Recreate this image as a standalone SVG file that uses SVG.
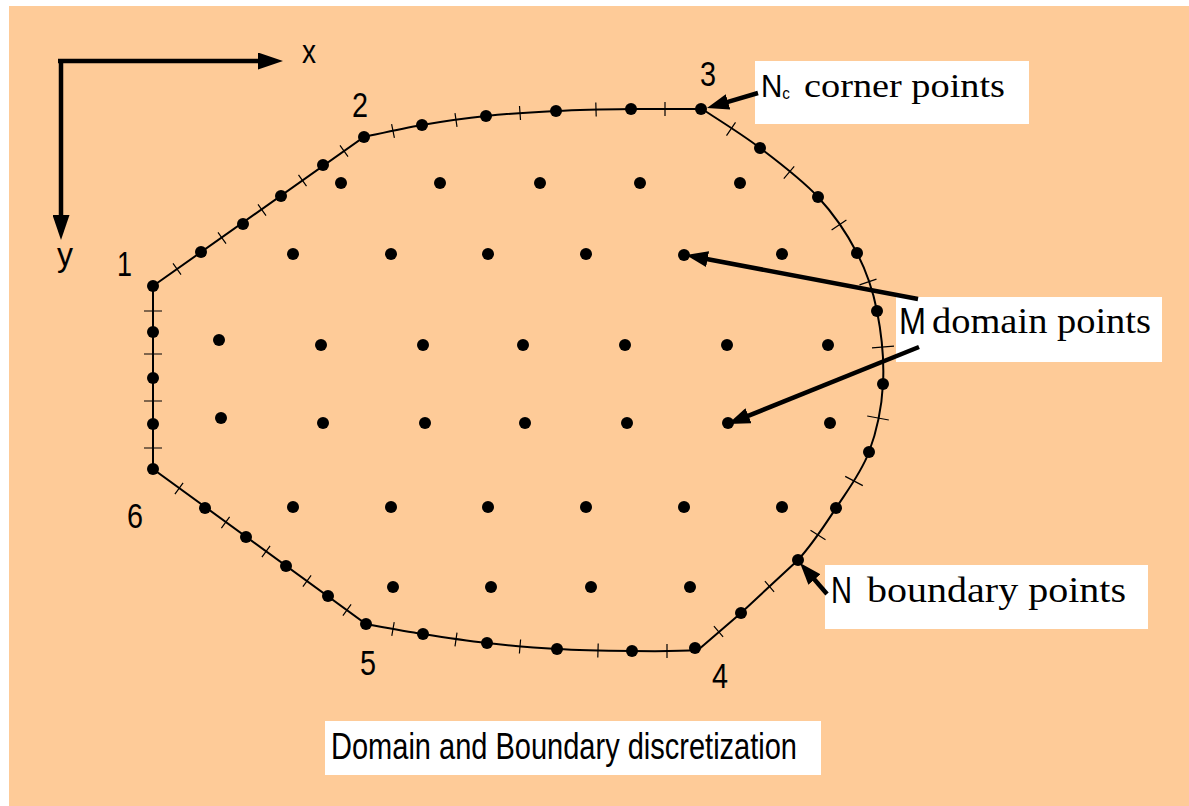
<svg xmlns="http://www.w3.org/2000/svg" width="1189" height="806" viewBox="0 0 1189 806">
<style>
.bd{fill:#000}
.dp{fill:#000}
.tk{stroke:#000;stroke-width:1.2;fill:none}
.edge{stroke:#000;stroke-width:2;fill:none}
.ax{stroke:#000;stroke-width:4.5;fill:none}
.ar{stroke:#000;stroke-width:4.5;fill:none}
.sn{font-family:"Liberation Sans Narrow","Liberation Sans",Arial,sans-serif;fill:#000}
.sf{font-family:"Liberation Serif","Times New Roman",serif;fill:#000}
.box{fill:#fff}
</style>
<defs>
<marker id="axhead" markerUnits="userSpaceOnUse" markerWidth="25" markerHeight="17" viewBox="0 0 25 17" refX="1" refY="8.5" orient="auto"><path d="M0,0 L25,8.5 L0,17 z" fill="#000"/></marker>
<marker id="head" markerUnits="userSpaceOnUse" markerWidth="22" markerHeight="16" viewBox="0 0 22 16" refX="1" refY="8" orient="auto"><path d="M0,0 L22,8 L0,16 z" fill="#000"/></marker>
</defs>
<rect x="9" y="6" width="1180" height="800" fill="#FECB98"/>

<g id="axes">
<path class="ax" d="M58,61 H259" marker-end="url(#axhead)"/>
<path class="ax" d="M61,59 V216" marker-end="url(#axhead)"/>
<text class="sn" x="302" y="63" font-size="34" textLength="14" lengthAdjust="spacingAndGlyphs">x</text>
<text class="sn" x="57" y="266" font-size="34" textLength="16" lengthAdjust="spacingAndGlyphs">y</text>
</g>

<g id="boundary">
<path class="edge" d="M153,286 L364,137 C373.7,135 401.7,128.5 422,125 C442.3,121.5 463.7,118.3 486,116 C508.3,113.7 531.8,112.2 556,111 C580.2,109.8 606.7,109.3 631,109 C655.3,108.7 690.2,109 702,109 C711.7,115.5 740.7,133.3 760,148 C779.3,162.7 801.8,179.5 818,197 C834.2,214.5 847.2,234 857,253 C866.8,272 872.7,289.2 877,311 C881.3,332.8 884.3,360.5 883,384 C881.7,407.5 876.8,431.3 869,452 C861.2,472.7 847.8,490 836,508 C824.2,526 813.8,542.5 798,560 L741,613 L698,650 C685.3,651 655.2,651.3 632,651 C608.8,650.7 581.2,650.3 557,649 C532.8,647.7 509.3,645.5 487,643 C464.7,640.5 443.2,637.2 423,634 C402.8,630.8 375.5,625.7 366,624 L153,469 Z"/>
<g id="ticks">
<path class="tk" d="M173,263.3 L181,274.7 M218,232.3 L226,243.7 M258,204.3 L266,215.7 M298.5,174.8 L306.5,186.2 M340,145.3 L348,156.7"/>
<path class="tk" d="M144,311 H162 M144,354 H162 M144,401 H162 M144,448 H162"/>
<path class="tk" d="M183.1,482.8 L174.9,494.2 M229.6,516.8 L221.4,528.2 M270.1,545.8 L261.9,557.2 M311.1,575.3 L302.9,586.7 M351.1,604.3 L342.9,615.7"/>
<path class="tk" d="M713.9,626.2 L723.1,636.8 M764.9,581.2 L774.1,591.8"/>
<path class="tk" d="M391.6,124.1 L394.4,137.9 M455,113.1 L457,126.9 M519.5,106 L520.5,120 M595.8,102.5 L596.2,116.5 M665,102 L665,116"/>
<path class="tk" d="M394.2,622.1 L391.8,635.9 M457,632.6 L455,646.4 M520.6,639.5 L519.4,653.5 M598.2,643.5 L597.8,657.5 M667,644 L667,658"/>
<path class="tk" d="M735.5,122.4 L726.5,135.6 M794.2,166.4 L783.8,178.6 M846.4,219.9 L831.6,230.1 M876.5,279.1 L859.5,284.9 M894,346.2 L872,347.8 M888.8,420 L867.2,416 M862.8,485.6 L845.2,476.4 M825.5,539.7 L810.5,530.3"/>
</g>
<g id="boundary-points">
<circle class="bd" cx="153" cy="286" r="6"/><circle class="bd" cx="201" cy="252" r="6"/><circle class="bd" cx="243" cy="224" r="6"/><circle class="bd" cx="281" cy="196" r="6"/><circle class="bd" cx="323" cy="165" r="6"/><circle class="bd" cx="364" cy="137" r="6"/>
<circle class="bd" cx="422" cy="125" r="6"/><circle class="bd" cx="486" cy="116" r="6"/><circle class="bd" cx="556" cy="111" r="6"/><circle class="bd" cx="631" cy="109" r="6"/><circle class="bd" cx="701" cy="109" r="6"/>
<circle class="bd" cx="760" cy="148" r="6"/><circle class="bd" cx="818" cy="197" r="6"/><circle class="bd" cx="857" cy="253" r="6"/><circle class="bd" cx="877" cy="311" r="6"/><circle class="bd" cx="883" cy="384" r="6"/><circle class="bd" cx="869" cy="452" r="6"/><circle class="bd" cx="836" cy="508" r="6"/><circle class="bd" cx="798" cy="560" r="6"/><circle class="bd" cx="741" cy="613" r="6"/><circle class="bd" cx="695" cy="648" r="6"/>
<circle class="bd" cx="632" cy="651" r="6"/><circle class="bd" cx="557" cy="649" r="6"/><circle class="bd" cx="487" cy="643" r="6"/><circle class="bd" cx="423" cy="634" r="6"/><circle class="bd" cx="366" cy="624" r="6"/>
<circle class="bd" cx="328" cy="596" r="6"/><circle class="bd" cx="286" cy="566" r="6"/><circle class="bd" cx="246" cy="537" r="6"/><circle class="bd" cx="205" cy="508" r="6"/><circle class="bd" cx="153" cy="469" r="6"/>
<circle class="bd" cx="153" cy="424" r="6"/><circle class="bd" cx="153" cy="378" r="6"/><circle class="bd" cx="153" cy="332" r="6"/>
</g>
</g>

<g id="domain-points">
<circle class="dp" cx="341" cy="183" r="6"/><circle class="dp" cx="440" cy="183" r="6"/><circle class="dp" cx="540" cy="183" r="6"/><circle class="dp" cx="640" cy="183" r="6"/><circle class="dp" cx="740" cy="183" r="6"/>
<circle class="dp" cx="293" cy="254" r="6"/><circle class="dp" cx="391" cy="254" r="6"/><circle class="dp" cx="488" cy="254" r="6"/><circle class="dp" cx="586" cy="254" r="6"/><circle class="dp" cx="684" cy="255" r="6"/><circle class="dp" cx="782" cy="254" r="6"/>
<circle class="dp" cx="219" cy="340" r="6"/><circle class="dp" cx="321" cy="345" r="6"/><circle class="dp" cx="423" cy="345" r="6"/><circle class="dp" cx="523" cy="345" r="6"/><circle class="dp" cx="625" cy="345" r="6"/><circle class="dp" cx="727" cy="345" r="6"/><circle class="dp" cx="828" cy="345" r="6"/>
<circle class="dp" cx="221" cy="418" r="6"/><circle class="dp" cx="323" cy="423" r="6"/><circle class="dp" cx="425" cy="423" r="6"/><circle class="dp" cx="525" cy="423" r="6"/><circle class="dp" cx="627" cy="423" r="6"/><circle class="dp" cx="728" cy="423" r="6"/><circle class="dp" cx="830" cy="423" r="6"/>
<circle class="dp" cx="293" cy="507" r="6"/><circle class="dp" cx="391" cy="507" r="6"/><circle class="dp" cx="488" cy="507" r="6"/><circle class="dp" cx="586" cy="507" r="6"/><circle class="dp" cx="684" cy="507" r="6"/><circle class="dp" cx="782" cy="507" r="6"/>
<circle class="dp" cx="393" cy="587" r="6"/><circle class="dp" cx="491" cy="587" r="6"/><circle class="dp" cx="591" cy="587" r="6"/><circle class="dp" cx="690" cy="587" r="6"/>
</g>

<g id="corner-labels">
<text class="sn" x="117" y="276" font-size="35" textLength="15" lengthAdjust="spacingAndGlyphs">1</text>
<text class="sn" x="352" y="117" font-size="35" textLength="16" lengthAdjust="spacingAndGlyphs">2</text>
<text class="sn" x="700" y="86" font-size="35" textLength="16" lengthAdjust="spacingAndGlyphs">3</text>
<text class="sn" x="712" y="688" font-size="35" textLength="16" lengthAdjust="spacingAndGlyphs">4</text>
<text class="sn" x="360" y="675" font-size="35" textLength="16" lengthAdjust="spacingAndGlyphs">5</text>
<text class="sn" x="127" y="528" font-size="35" textLength="16" lengthAdjust="spacingAndGlyphs">6</text>
</g>

<g id="label-corner">
<rect class="box" x="755" y="61" width="274" height="63"/>
<text class="sn" x="761" y="97" font-size="31" textLength="29" lengthAdjust="spacingAndGlyphs">N<tspan font-size="16" dy="2">c</tspan></text>
<text class="sf" x="804" y="97" font-size="33" textLength="201" lengthAdjust="spacingAndGlyphs">corner points</text>
</g>

<g id="label-domain">
<rect class="box" x="896" y="297" width="266" height="65"/>
<text class="sn" x="899" y="334" font-size="36" textLength="27" lengthAdjust="spacingAndGlyphs">M</text>
<text class="sf" x="932" y="333" font-size="36" textLength="219" lengthAdjust="spacingAndGlyphs">domain points</text>
</g>

<g id="label-boundary">
<rect class="box" x="825" y="565" width="323" height="64"/>
<text class="sn" x="831" y="603" font-size="36" textLength="21" lengthAdjust="spacingAndGlyphs">N</text>
<text class="sf" x="867" y="602" font-size="36" textLength="259" lengthAdjust="spacingAndGlyphs">boundary points</text>
</g>

<g id="caption">
<rect class="box" x="325" y="721" width="496" height="54"/>
<text class="sn" x="331" y="759" font-size="37" textLength="466" lengthAdjust="spacingAndGlyphs">Domain and Boundary discretization</text>
</g>

<g id="connectors">
<path class="ar" d="M758,93 L727.1,102.1" marker-end="url(#head)"/>
<path class="ar" d="M918,299 L706.6,259" marker-end="url(#head)"/>
<path class="ar" d="M919,347 L747.5,416.1" marker-end="url(#head)"/>
<path class="ar" d="M827,594 L813.8,578.8" marker-end="url(#head)"/>
</g>
</svg>
